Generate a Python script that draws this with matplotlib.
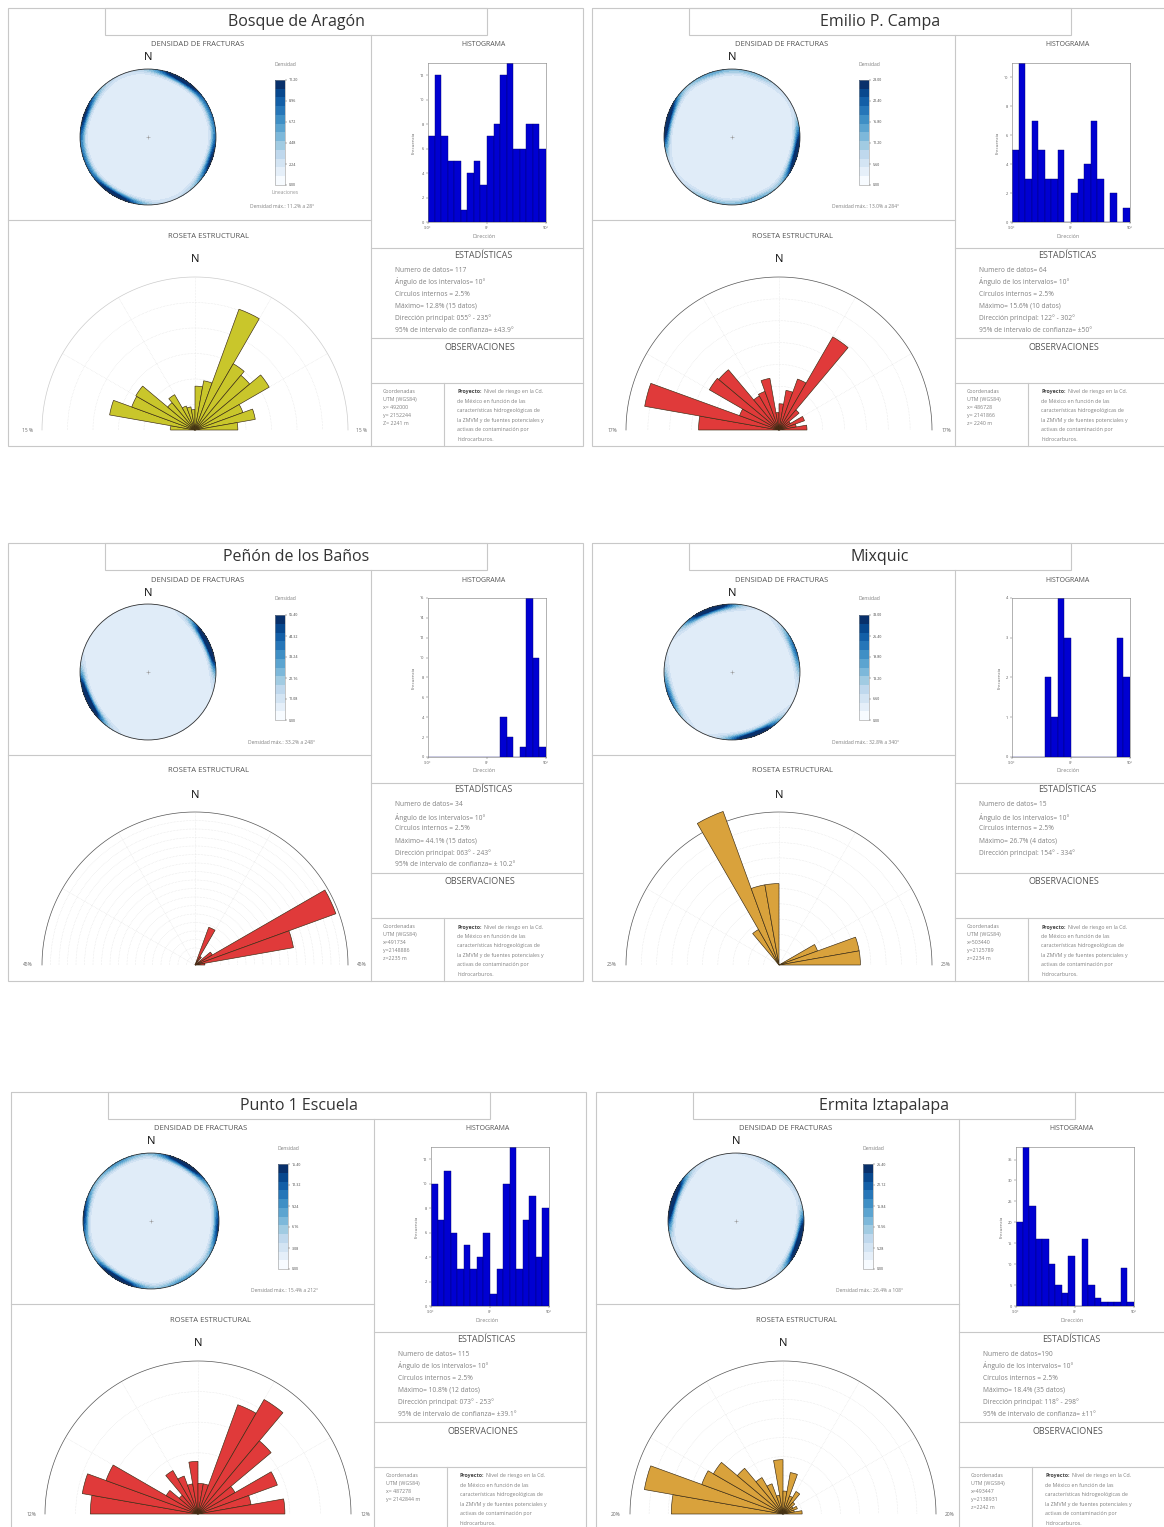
import numpy as np
import matplotlib.pyplot as plt
from matplotlib.patches import Rectangle, Circle
from matplotlib import colors, cm
from matplotlib.ticker import MultipleLocator

plt.rcParams['font.family'] = ['Open Sans', 'DejaVu Sans']

W, H = 1164, 1527

# ---- datos ----
titles = ['Bosque de Aragón', 'Emilio P. Campa', 'Peñón de los Baños',
          'Mixquic', 'Punto 1 Escuela', 'Ermita Iztapalapa']
origins = [(8, 8), (592, 8), (8, 543), (592, 543), (11, 1092), (596, 1092)]

bin_edges = [-90, -80, -70, -60, -50, -40, -30, -20, -10, 0, 10, 20, 30, 40, 50, 60, 70, 80]

hist_bosque = [7, 12, 7, 5, 5, 1, 4, 5, 3, 7, 8, 12, 13, 6, 6, 8, 8, 6]
hist_campa = [5, 11, 3, 7, 5, 3, 3, 5, 0, 2, 3, 4, 7, 3, 0, 2, 0, 1]
hist_penon = [0, 0, 0, 0, 0, 0, 0, 0, 0, 0, 0, 4, 2, 0, 1, 16, 10, 1]
hist_mixquic = [0, 0, 0, 0, 0, 2, 1, 4, 3, 0, 0, 0, 0, 0, 0, 0, 3, 2]
hist_punto1 = [10, 7, 11, 6, 3, 5, 3, 4, 6, 1, 3, 10, 13, 3, 7, 9, 4, 8]
hist_ermita = [20, 38, 24, 16, 16, 10, 5, 3, 12, 0, 16, 5, 2, 1, 1, 1, 9, 1]
hist_step = [2, 2, 2, 1, 2, 5]

# roseta (%), intervalos de 10 grados
rose_bosque = [2.4, 8.5, 6.6, 6.7, 3.5, 4.0, 2.5, 2.3, 2.0, 4.3, 4.9, 12.6, 7.5, 7.0, 8.4, 5.0, 6.0, 4.2]
rose_campa = [9.2, 15.6, 4.8, 9.2, 9.0, 4.5, 4.7, 6.0, 2.0, 3.0, 4.6, 6.2, 12.3, 3.0, 1.5, 3.1, 2.0, 3.2]
rose_penon = [0, 0, 0, 0, 0, 0, 0, 0, 0, 0, 0, 11.8, 2.9, 0, 5.9, 44.1, 29.4, 2.9]
rose_mixquic = [0, 0, 0, 0, 0, 6.7, 26.7, 13.3, 13.3, 0, 0, 0, 0, 0, 0, 6.7, 13.3, 13.3]
rose_punto1 = [8.8, 9.6, 8.0, 3.0, 2.0, 4.1, 3.3, 2.5, 4.3, 2.5, 2.5, 9.5, 10.8, 7.8, 3.5, 6.9, 4.4, 7.1]
rose_ermita = [14.6, 18.4, 11.3, 10.5, 7.8, 5.5, 4.2, 2.5, 7.1, 3.0, 5.5, 2.5, 3.4, 2.0, 1.5, 2.0, 1.5, 2.5]
rose_max = [15, 17.5, 45, 25, 12.5, 20]
rose_edge_labels = ['15 %', '17%', '45%', '25%', '12%', '20%']
rose_colors = ['#c9c62b', '#e03a3a', '#e03a3a', '#d9a23c', '#e03a3a', '#d9a23c']

# concentraciones de polos en la red (azimut, peso) y anillo
conc_az = [[30, 210, 290, 110, 250, 70], [284, 104, 160, 340, 20, 200], [65, 245],
           [340, 160, 250, 70], [30, 212, 275, 95, 330, 150], [288, 108, 40, 220]]
conc_w = [[0.6, 0.6, 0.45, 0.45, 0.25, 0.25], [0.7, 0.7, 0.2, 0.2, 0.15, 0.15], [0.85, 0.85],
          [0.75, 0.75, 0.35, 0.35], [0.6, 0.65, 0.4, 0.4, 0.2, 0.2], [0.8, 0.8, 0.15, 0.15]]
ring_w = [0.14, 0.08, 0.03, 0.03, 0.16, 0.06]
cbar_top = [11.20, 28.00, 55.40, 33.00, 15.40, 26.40]
dens_max = ['Densidad máx.: 11.2% a 28°', 'Densidad máx.: 13.0% a 284°',
            'Densidad máx.: 33.2% a 248°', 'Densidad máx.: 32.8% a 340°',
            'Densidad máx.: 15.4% a 212°', 'Densidad máx.: 26.4% a 108°']

stats = [
    ['Numero de datos= 117', 'Ángulo de los intervalos= 10°', 'Círculos internos = 2.5%',
     'Máximo= 12.8% (15 datos)', 'Dirección principal: 055° - 235°', '95% de intervalo de confianza= ±43.9°'],
    ['Numero de datos= 64', 'Ángulo de los intervalos= 10°', 'Círculos internos = 2.5%',
     'Máximo= 15.6% (10 datos)', 'Dirección principal: 122° - 302°', '95% de intervalo de confianza= ±50°'],
    ['Numero de datos= 34', 'Ángulo de los intervalos= 10°', 'Círculos internos = 2.5%',
     'Máximo= 44.1% (15 datos)', 'Dirección principal: 063° - 243°', '95% de intervalo de confianza= ± 10.2°'],
    ['Numero de datos= 15', 'Ángulo de los intervalos= 10°', 'Círculos internos = 2.5%',
     'Máximo= 26.7% (4 datos)', 'Dirección principal: 154° - 334°'],
    ['Numero de datos= 115', 'Ángulo de los intervalos= 10°', 'Círculos internos = 2.5%',
     'Máximo= 10.8% (12 datos)', 'Dirección principal: 073° - 253°', '95% de intervalo de confianza= ±39.1°'],
    ['Numero de datos=190', 'Ángulo de los intervalos= 10°', 'Círculos internos = 2.5%',
     'Máximo= 18.4% (35 datos)', 'Dirección principal: 118° - 298°', '95% de intervalo de confianza= ±11°'],
]
coords = [
    'Coordenadas\nUTM (WGS84)\nx= 492000\ny= 2152244\nZ= 2241 m',
    'Coordenadas\nUTM (WGS84)\nx= 486728\ny= 2141866\nz= 2240 m',
    'Coordenadas\nUTM (WGS84)\nx=491734\ny=2148886\nz=2235 m',
    'Coordenadas\nUTM (WGS84)\nx=503440\ny=2125789\nz=2234 m',
    'Coordenadas\nUTM (WGS84)\nx= 487278\ny= 2142844 m',
    'Coordenadas\nUTM (WGS84)\nx=493447\ny=2138931\nz=2242 m',
]
proyecto = ['Nivel de riesgo en la Cd.', 'de México en función de las',
            'características hidrogeológicas de', 'la ZMVM y de fuentes potenciales y',
            'activas de contaminación por', 'hidrocarburos.']

hists = [hist_bosque, hist_campa, hist_penon, hist_mixquic, hist_punto1, hist_ermita]
roses = [rose_bosque, rose_campa, rose_penon, rose_mixquic, rose_punto1, rose_ermita]

line_c = '#c8c8c8'
txt_c = '#555555'

fig = plt.figure(figsize=(W / 100, H / 100), dpi=100, facecolor='white')
bg = fig.add_axes([0, 0, 1, 1])
bg.set_xlim(0, W)
bg.set_ylim(H, 0)
bg.axis('off')
renderer = fig.canvas.get_renderer()


def px_axes(x, y, w, h, **kw):
    return fig.add_axes([x / W, 1 - (y + h) / H, w / W, h / H], **kw)


def hline(x0, x1, y):
    bg.plot([x0, x1], [y, y], color=line_c, lw=0.8)


def vline(x, y0, y1):
    bg.plot([x, x], [y0, y1], color=line_c, lw=0.8)


blues_steps = colors.ListedColormap(plt.cm.Blues(np.linspace(0.0, 1.0, 12)))
gx = np.linspace(-1.0, 1.0, 400)
GX, GY = np.meshgrid(gx, gx)
GR = np.hypot(GX, GY)
GT = np.degrees(np.arctan2(GX, GY))
arc_t = np.deg2rad(np.linspace(-90, 90, 181))

for i in range(6):
    ox, oy = origins[i]
    # marcos
    bg.add_patch(Rectangle((ox, oy), 575, 438, fill=False, ec=line_c, lw=0.8))
    bg.add_patch(Rectangle((ox + 97, oy), 382, 27, fill=False, ec=line_c, lw=0.8))
    bg.text(ox + 288, oy + 14, titles[i], ha='center', va='center', fontsize=11.5, color='#333333')
    vline(ox + 363, oy + 27, oy + 438)
    hline(ox, ox + 363, oy + 212)
    hline(ox + 363, ox + 575, oy + 240)
    hline(ox + 363, ox + 575, oy + 330)
    hline(ox + 363, ox + 575, oy + 375)
    vline(ox + 436, oy + 375, oy + 438)

    bg.text(ox + 190, oy + 37, 'DENSIDAD DE FRACTURAS', ha='center', va='center', fontsize=5.5, color=txt_c)
    bg.text(ox + 476, oy + 37, 'HISTOGRAMA', ha='center', va='center', fontsize=5, color=txt_c)
    bg.text(ox + 200, oy + 228, 'ROSETA ESTRUCTURAL', ha='center', va='center', fontsize=5.5, color=txt_c)
    bg.text(ox + 475, oy + 247, 'ESTADÍSTICAS', ha='center', va='center', fontsize=6.5, color=txt_c)
    bg.text(ox + 472, oy + 339, 'OBSERVACIONES', ha='center', va='center', fontsize=6.5, color=txt_c)

    for k, line in enumerate(stats[i]):
        bg.text(ox + 387, oy + 262 + 12 * k, line, ha='left', va='center', fontsize=4.8, color='#808080')

    bg.text(ox + 375, oy + 381, coords[i], ha='left', va='top', fontsize=3.8,
            color='#808080', linespacing=1.75)
    t = bg.text(ox + 449, oy + 384, 'Proyecto:', ha='left', va='center', fontsize=3.8,
                color='#444444', fontweight='bold')
    wpx = t.get_window_extent(renderer).width
    bg.text(ox + 449 + wpx + 2, oy + 384, proyecto[0], ha='left', va='center', fontsize=3.8, color='#808080')
    for k, line in enumerate(proyecto[1:]):
        bg.text(ox + 449, oy + 393.5 + 9.4 * k, line, ha='left', va='center', fontsize=3.8, color='#808080')

    # red estereografica de densidad
    cx, cy, R = ox + 140, oy + 129, 68
    bg.text(cx, oy + 50, 'N', ha='center', va='center', fontsize=8, color='#111111')
    ax = px_axes(cx - R - 2, cy - R - 2, 2 * R + 4, 2 * R + 4)
    D = 0.1 + ring_w[i] * np.exp(-((1 - GR) ** 2) / (2 * 0.04 ** 2))
    for az, w in zip(conc_az[i], conc_w[i]):
        dth = (GT - az + 90) % 180 - 90
        D = D + w * np.exp(-dth ** 2 / (2 * 15.0 ** 2)) * np.exp(-((1 - GR) ** 2) / (2 * 0.05 ** 2))
    D = np.where(GR <= 1.0, D, np.nan)
    ax.contourf(GX, GY, D, levels=np.linspace(0, 1.1, 14), cmap='Blues', extend='max')
    ax.add_patch(Circle((0, 0), 1.0, fill=False, ec='#333333', lw=0.6))
    ax.plot(0, 0, '+', ms=3, color='#999999', mew=0.4)
    ax.set_xlim(-1.03, 1.03)
    ax.set_ylim(-1.03, 1.03)
    ax.set_aspect('equal')
    ax.axis('off')

    bg.text(ox + 277, oy + 56, 'Densidad', ha='center', va='center', fontsize=3.6, color='#808080')
    if i == 0:
        bg.text(ox + 277, oy + 185, 'Lineaciones', ha='center', va='center', fontsize=3.6, color='#999999')
    bg.text(ox + 274, oy + 199, dens_max[i], ha='center', va='center', fontsize=3.6, color='#808080')
    cax = px_axes(ox + 267, oy + 72, 10, 105)
    sm = cm.ScalarMappable(norm=colors.Normalize(0, cbar_top[i]), cmap=blues_steps)
    cb = fig.colorbar(sm, cax=cax)
    ticks = np.linspace(0, cbar_top[i], 6)
    cb.set_ticks(ticks)
    cb.set_ticklabels(['%.2f' % v for v in ticks])
    cax.tick_params(labelsize=2.6, length=1.5, width=0.3, pad=1, colors='#444444')
    cb.outline.set_linewidth(0.4)
    cb.outline.set_edgecolor('#999999')

    # histograma
    hx = px_axes(ox + 420, oy + 55, 118, 159)
    hx.bar(bin_edges, hists[i], width=10, align='edge', color='#0000d2', edgecolor='#000070', lw=0.3)
    hx.set_xlim(-90, 90)
    hx.set_ylim(0, max(hists[i]))
    hx.set_xticks([-90, 0, 90])
    hx.set_xticklabels(['-90°', '0°', '90°'])
    hx.yaxis.set_major_locator(MultipleLocator(hist_step[i]))
    hx.tick_params(labelsize=2.8, length=1.5, width=0.3, pad=1.5, colors='#555555')
    hx.set_ylabel('Frecuencia', fontsize=3.2, color='#666666', labelpad=3)
    for s in hx.spines.values():
        s.set_linewidth(0.4)
        s.set_color('#777777')
    bg.text(ox + 476, oy + 228, 'Dirección', ha='center', va='center', fontsize=3.8, color='#808080')

    # roseta estructural (el semicirculo ocupa la franja central de un cuadro de lado 2R)
    rcx, rcy, RR = ox + 187, oy + 422, 153
    bg.text(rcx, oy + 252, 'N', ha='center', va='center', fontsize=8, color='#111111')
    pa = px_axes(rcx - RR, rcy - 1.5 * RR, 2 * RR, 2 * RR, projection='polar')
    pa.set_theta_zero_location('N')
    pa.set_theta_direction(-1)
    pa.set_thetamin(-90)
    pa.set_thetamax(90)
    pa.bar(np.deg2rad(bin_edges), roses[i], width=np.deg2rad(10), align='edge',
           color=rose_colors[i], edgecolor='#3a2a12', lw=0.45, clip_on=False, zorder=3)
    pa.set_ylim(0, rose_max[i])
    pa.set_yticks(np.arange(2.5, rose_max[i], 2.5))
    pa.set_yticklabels([])
    pa.set_xticks(np.deg2rad([-60, -30, 0, 30, 60]))
    pa.set_xticklabels([])
    pa.tick_params(axis='both', length=0, width=0)
    pa.grid(color='#dcdcdc', lw=0.4, ls=':')
    # PolarAxes.draw vuelve visibles 'start'/'end'; se anulan por color y grosor
    for sp in pa.spines.values():
        sp.set_edgecolor('none')
        sp.set_linewidth(0)
    pa.plot(arc_t, np.full(arc_t.shape, rose_max[i]), color='#555555' if i > 0 else '#cccccc',
            lw=0.5, clip_on=False)
    pa.patch.set_alpha(0)
    bg.text(ox + 20, rcy, rose_edge_labels[i], ha='center', va='center', fontsize=3.5, color='#666666')
    bg.text(ox + 354, rcy, rose_edge_labels[i], ha='center', va='center', fontsize=3.5, color='#666666')

fig.savefig('out.png', dpi=100, facecolor='white')
